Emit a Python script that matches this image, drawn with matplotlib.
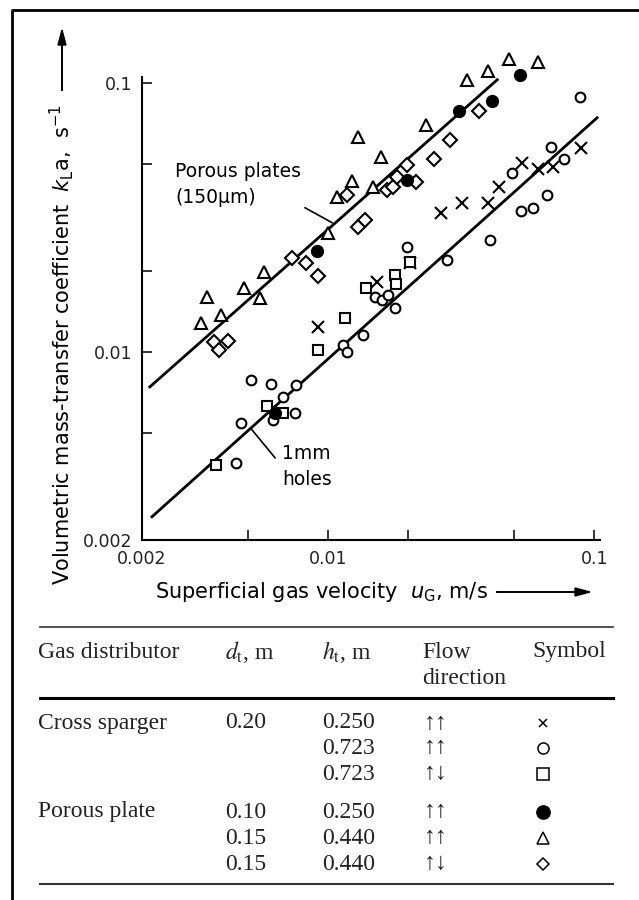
import numpy as np
import matplotlib.pyplot as plt

plt.rcParams['font.family'] = ['DejaVu Sans']
plt.rcParams['mathtext.fontset'] = 'dejavusans'

# superficial gas velocity u_G (m/s) and kLa (1/s) for each set of runs
# cross sparger, h_t = 0.250 m, co-current
cross_u = [0.00917, 0.0153, 0.0203, 0.0266, 0.0319, 0.0400, 0.0440, 0.0536, 0.0616, 0.0701, 0.0894]
cross_k = [0.0124, 0.0182, 0.0214, 0.0329, 0.0358, 0.0358, 0.0411, 0.0504, 0.0479, 0.0487, 0.0571]

# cross sparger, h_t = 0.723 m, co-current
circ_u = [0.00514, 0.00610, 0.00758, 0.00677, 0.00751, 0.00621, 0.00471, 0.00451,
          0.0114, 0.0118, 0.0135, 0.0150, 0.0160, 0.0168, 0.0179, 0.0197, 0.0280,
          0.0406, 0.0492, 0.0532, 0.0590, 0.0666, 0.0689, 0.0772, 0.0886]
circ_k = [0.00784, 0.00760, 0.00754, 0.00680, 0.00593, 0.00559, 0.00545, 0.00387,
          0.0106, 0.0100, 0.0116, 0.0160, 0.0156, 0.0163, 0.0146, 0.0246, 0.0220,
          0.0261, 0.0463, 0.0334, 0.0343, 0.0383, 0.0578, 0.0522, 0.0887]

# cross sparger, h_t = 0.723 m, counter-current
sq_u = [0.00379, 0.00590, 0.00677, 0.00917, 0.0116, 0.0139, 0.0179, 0.0180, 0.0203]
sq_k = [0.00380, 0.00630, 0.00593, 0.0102, 0.0134, 0.0172, 0.0193, 0.0178, 0.0216]

# porous plate, d_t = 0.10 m
dot_u = [0.00632, 0.00909, 0.0198, 0.0311, 0.0414, 0.0527]
dot_k = [0.00593, 0.0237, 0.0436, 0.0787, 0.0857, 0.1071]

# porous plate, d_t = 0.15 m, co-current
tri_u = [0.00351, 0.00333, 0.00396, 0.00483, 0.00555, 0.00575, 0.0100, 0.0108, 0.0123,
         0.0129, 0.0158, 0.0148, 0.0234, 0.0333, 0.0400, 0.0479, 0.0616]
tri_k = [0.0160, 0.0128, 0.0137, 0.0172, 0.0159, 0.0198, 0.0277, 0.0377, 0.0432,
         0.0630, 0.0531, 0.0411, 0.0698, 0.1026, 0.1108, 0.1228, 0.1197]

# porous plate, d_t = 0.15 m, counter-current
dia_u = [0.00373, 0.00389, 0.00421, 0.00732, 0.00827, 0.00917, 0.0118, 0.0129, 0.0138,
         0.0167, 0.0176, 0.0182, 0.0198, 0.0214, 0.0250, 0.0288, 0.0370]
dia_k = [0.0109, 0.0102, 0.0110, 0.0224, 0.0214, 0.0192, 0.0383, 0.0292, 0.0310,
         0.0400, 0.0411, 0.0447, 0.0496, 0.0429, 0.0522, 0.0614, 0.0787]

# correlation lines
porous_u = [0.00214, 0.0432]
porous_k = [0.00741, 0.1026]
holes_u = [0.00218, 0.1024]
holes_k = [0.00244, 0.0741]

# table of run conditions
tab_distributor = ['Cross sparger', '', '', 'Porous plate', '', '']
tab_dt = ['0.20', '', '', '0.10', '0.15', '0.15']
tab_ht = ['0.250', '0.723', '0.723', '0.250', '0.440', '0.440']
tab_flow = ['\u2191\u2191', '\u2191\u2191', '\u2191\u2193', '\u2191\u2191', '\u2191\u2191', '\u2191\u2193']
tab_marker = ['x', 'o', 's', 'o', '^', 'D']
tab_filled = [False, False, False, True, False, False]
tab_msize = [6, 8, 8.5, 9.5, 8, 6.5]

W, H = 639, 900
fig = plt.figure(figsize=(W / 100, H / 100), dpi=100)

ax = fig.add_axes([142 / W, 1 - 540 / H, 458 / W, 463 / H])
ax.set_xscale('log')
ax.set_yscale('log')
ax.set_xlim(0.002, 0.105)
ax.set_ylim(0.002, 0.105)

for s in ['top', 'right']:
    ax.spines[s].set_visible(False)
for s in ['left', 'bottom']:
    ax.spines[s].set_linewidth(1.5)

ax.set_xticks([0.002, 0.01, 0.1])
ax.set_xticklabels(['0.002', '0.01', '0.1'])
ax.set_yticks([0.002, 0.01, 0.1])
ax.set_yticklabels(['0.002', '0.01', '0.1'])
ax.set_xticks([0.005, 0.02, 0.05], minor=True)
ax.set_yticks([0.005, 0.02, 0.05], minor=True)
ax.xaxis.set_minor_formatter(plt.NullFormatter())
ax.yaxis.set_minor_formatter(plt.NullFormatter())
ax.tick_params(which='both', direction='in', length=7, width=1.3,
               labelsize=12.5, pad=7, colors='#222222')

ax.plot(porous_u, porous_k, '-', color='k', lw=2)
ax.plot(holes_u, holes_k, '-', color='k', lw=2)

mk = dict(ls='none', color='k', clip_on=False, mew=1.5)
ax.plot(cross_u, cross_k, marker='x', ms=8, **mk)
ax.plot(circ_u, circ_k, marker='o', ms=7, mfc='white', **mk)
ax.plot(sq_u, sq_k, marker='s', ms=7, mfc='white', **mk)
ax.plot(tri_u, tri_k, marker='^', ms=8.5, mfc='white', **mk)
ax.plot(dia_u, dia_k, marker='D', ms=7, mfc='white', **mk)
ax.plot(dot_u, dot_k, marker='o', ms=8, **mk)

ax.text(0.00266, 0.0418, 'Porous plates\n(150\u00b5m)', fontsize=13.5,
        ha='left', va='center', linespacing=1.45)
ax.plot([0.00819, 0.01035], [0.0343, 0.0302], color='k', lw=1.2)
ax.text(0.00671, 0.00374, '1mm\nholes', fontsize=13.5,
        ha='left', va='center', linespacing=1.45)
ax.plot([0.00518, 0.00632], [0.00513, 0.00404], color='k', lw=1.2)

# axis titles with arrows
fig.text(62 / W, 1 - 345 / H,
         r'Volumetric mass-transfer coefficient  $k_{\mathrm{L}}\mathrm{a}$,  s$^{-1}$',
         rotation=90, ha='center', va='center', fontsize=15)
fig.add_artist(plt.Line2D([62 / W, 62 / W], [1 - 90 / H, 1 - 40 / H], color='k', lw=1.4))
fig.text(155 / W, 1 - 592 / H, r'Superficial gas velocity  $u_{\mathrm{G}}$, m/s',
         ha='left', va='center', fontsize=15)
fig.add_artist(plt.Line2D([497 / W, 575 / W], [1 - 592 / H, 1 - 592 / H], color='k', lw=1.4))
fig.add_artist(plt.Polygon([[575 / W, 1 - 588 / H], [590 / W, 1 - 592 / H], [575 / W, 1 - 596 / H]],
                           closed=True, color='k'))
fig.add_artist(plt.Polygon([[58 / W, 1 - 45 / H], [62 / W, 1 - 30 / H], [66 / W, 1 - 45 / H]],
                           closed=True, color='k'))

# table below the plot, drawn in pixel coordinates
tab = fig.add_axes([0, 0, 1, 1], zorder=-1)
tab.set_xlim(0, W)
tab.set_ylim(H, 0)
tab.axis('off')

tab.plot([12, 12, W], [H, 10, 10], color='k', lw=2)
tab.plot([40, 613], [627, 627], color='#333333', lw=1.2)
tab.plot([40, 613], [698, 698], color='k', lw=2.2)
tab.plot([40, 613], [884, 884], color='#333333', lw=1.5)

serif = ['Liberation Serif', 'DejaVu Serif']
tk = dict(fontsize=17, family=serif, va='center', ha='left', color='#222222', math_fontfamily='stix')
tab.text(38, 652, 'Gas distributor', **tk)
tab.text(225, 652, r'$d_{\mathrm{t}}$, m', **tk)
tab.text(322, 652, r'$h_{\mathrm{t}}$, m', **tk)
tab.text(422, 652, 'Flow', **tk)
tab.text(422, 678, 'direction', **tk)
tab.text(532, 652, 'Symbol', **tk)

row_y = [723, 748, 774, 812, 838, 864]
for i, y in enumerate(row_y):
    tab.text(38, y, tab_distributor[i], **tk)
    tab.text(225, y, tab_dt[i], **tk)
    tab.text(322, y, tab_ht[i], **tk)
    tab.text(424, y, tab_flow[i], **tk)
    face = 'k' if tab_filled[i] else 'white'
    tab.plot(543, y, marker=tab_marker[i], ms=tab_msize[i],
             mfc=face, mec='k', mew=1.1, ls='none')

fig.savefig('out.png', dpi=100)
